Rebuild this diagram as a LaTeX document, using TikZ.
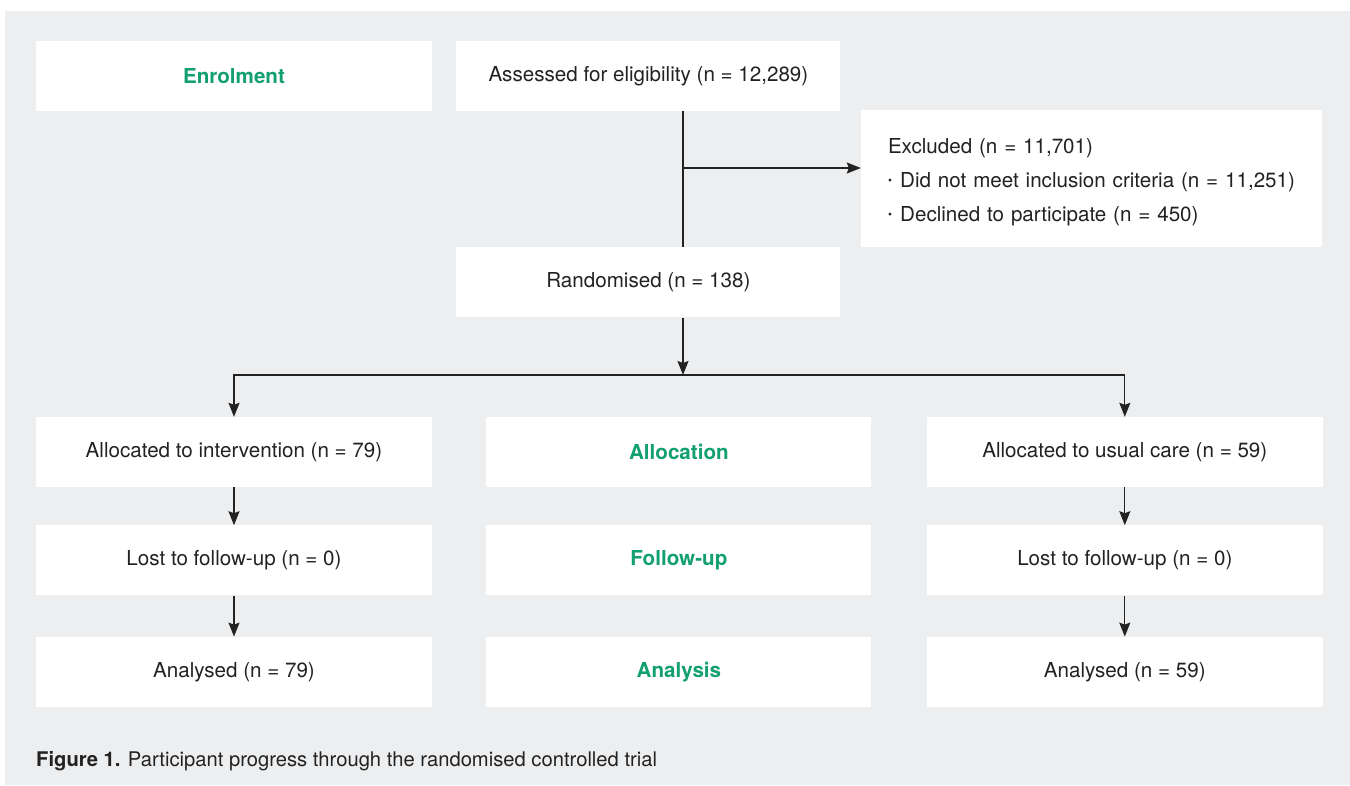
\documentclass[tikz,border=0pt]{standalone}
\usepackage{fontspec}
\setmainfont{TeX Gyre Heros}
\usetikzlibrary{arrows.meta,positioning}

\definecolor{trialgreen}{RGB}{18,160,110}
\definecolor{panelgrey}{HTML}{EDEEF0}
\definecolor{inkgrey}{HTML}{222222}

\newcommand{\bul}{\raisebox{0.3ex}{\scalebox{0.55}{\textbullet}}\hspace{0.4em}}

\tikzset{
  box/.style={fill=white, minimum width=396pt, minimum height=70pt, inner sep=0pt,
    text=inkgrey, font=\fontsize{20.6}{24}\selectfont},
  stage/.style={box, text=trialgreen, font=\fontsize{20.6}{24}\selectfont\bfseries},
  link/.style={draw=inkgrey, line width=1.3pt},
}

\begin{document}
\begin{tikzpicture}[x=1pt, y=-1pt, >={Stealth[length=14pt,width=11pt,inset=2pt]}]

\useasboundingbox (0,0) rectangle (1350,785);
\fill[panelgrey] (5,11) rectangle (1350,785);

\node[stage] (enrol)                                    at (234,76) {Enrolment};
\node[box]   (assess) [right=24pt of enrol, minimum width=384pt] {Assessed for eligibility (n = 12,289)};
\node[box]   (rand)   [below=136pt of assess, minimum width=384pt] {Randomised (n = 138)};
\node[box, minimum width=461pt, minimum height=137pt, text width=407pt, inner xsep=27pt,
      align=left, font=\fontsize{20.6}{34}\selectfont] (excl) at (1091.5,178.5)
      {\mbox{\rule{0pt}{23pt}Excluded (n = 11,701)}\\
       \mbox{\bul Did not meet inclusion criteria (n = 11,251)}\\
       \mbox{\bul Declined to participate (n = 450)}};

\node[box]   (allocL)                                   at (234,452) {Allocated to intervention (n = 79)};
\node[stage] (alloc)  [right=54pt of allocL, minimum width=385pt] {Allocation};
\node[box]   (allocR) [right=55pt of alloc]             {Allocated to usual care (n = 59)};

\node[box]   (lostL)  [below=38pt of allocL]            {Lost to follow-up (n = 0)};
\node[stage] (follow) [below=38pt of alloc, minimum width=385pt] {Follow-up};
\node[box]   (lostR)  [below=38pt of allocR]            {Lost to follow-up (n = 0)};

\node[box]   (anaL)   [below=41pt of lostL]             {Analysed (n = 79)};
\node[stage] (ana)    [below=41pt of follow, minimum width=385pt] {Analysis};
\node[box]   (anaR)   [below=41pt of lostR]             {Analysed (n = 59)};

\node[anchor=base west, inner sep=0pt, text=inkgrey, font=\fontsize{20.2}{24}\selectfont]
      (caption) at (36,766) {\textbf{Figure 1.} Participant progress through the randomised controlled trial};

% trunk and branches
\coordinate (trunk) at (683,168);
\coordinate (split) at (683,375);

\draw[link]     (assess.south -| trunk) -- (rand.north -| trunk);
\draw[link, ->] (trunk) -- (trunk -| excl.west);
\draw[link, ->] (rand.south -| split) -- (split);
\draw[link, ->] (split) -| (allocL.north);
\draw[link, ->] (split) -| (allocR.north);

\draw[link, ->] (allocL) -- (lostL);
\draw[link, ->] (lostL)  -- (anaL);
\draw[link, ->] (allocR) -- (lostR);
\draw[link, ->] (lostR)  -- (anaR);

\end{tikzpicture}
\end{document}
